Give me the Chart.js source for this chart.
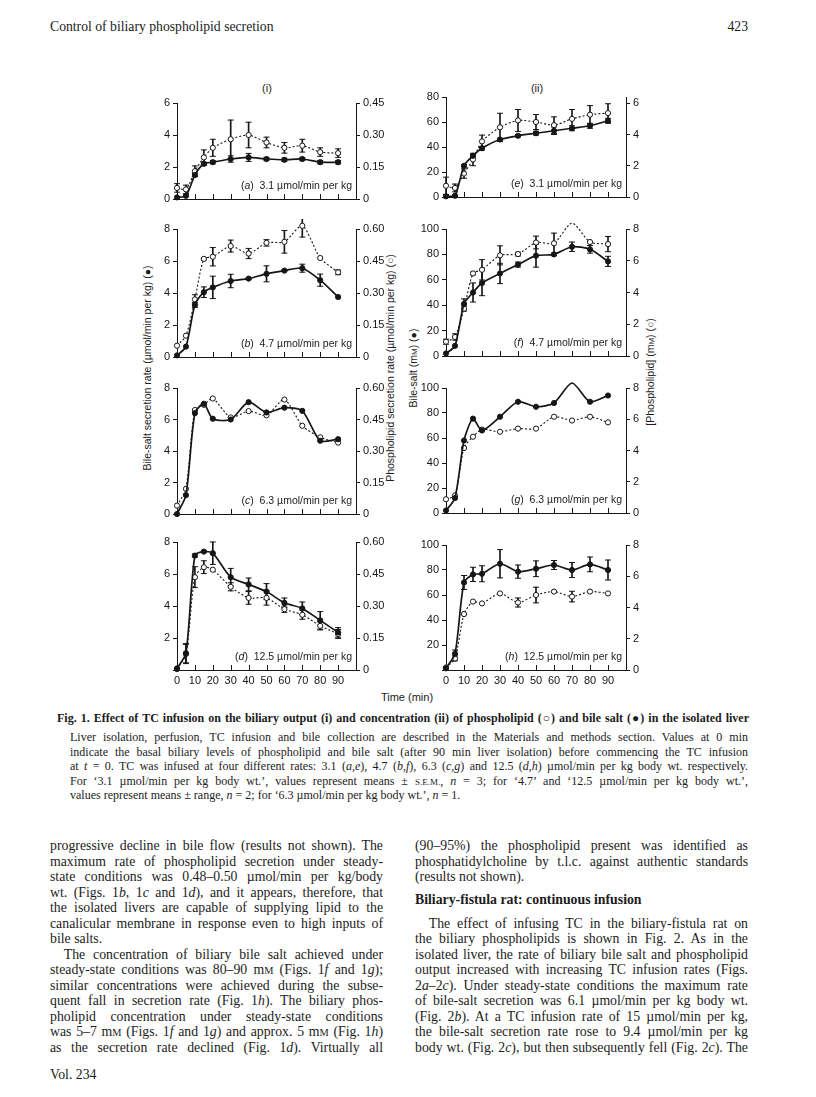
<!DOCTYPE html>
<html>
<head>
<meta charset="utf-8">
<title>Fig. 1 - TC infusion</title>
<script src="https://cdn.jsdelivr.net/npm/chart.js@4.4.1/dist/chart.umd.min.js"></script>
<style>
  html, body { margin: 0; padding: 0; background: #fff; }
  body { position: relative; width: 816px; height: 1097px; overflow: hidden; color: #1c1c1c;
         font-family: "Liberation Serif", "Times New Roman", serif; }
  .abs { position: absolute; white-space: nowrap; }
  .sans { font-family: "Liberation Sans", Arial, sans-serif; }
  .vt { position: absolute; white-space: nowrap; transform: translate(-50%, -50%) rotate(-90deg);
        font: 10.5px "Liberation Sans", Arial, sans-serif; }
  .cap { position: absolute; white-space: nowrap; transform: translateX(-100%);
         font: 10.5px "Liberation Sans", Arial, sans-serif; }
  .ln { position: absolute; white-space: nowrap; text-align: justify; text-align-last: justify; }
  .ln.last { text-align-last: left; }
  .sc { font-size: 75%; }
</style>
</head>
<body>

<div class="abs" style="left:50px;top:19px;font-size:13.7px;">Control of biliary phospholipid secretion</div>
<div class="abs" style="left:700px;width:48px;top:19px;font-size:13.7px;text-align:right;">423</div>

<div class="abs sans" style="left:267px;top:82px;font-size:11px;transform:translateX(-50%);">(i)</div>
<div class="abs sans" style="left:537px;top:82px;font-size:11px;transform:translateX(-50%);">(ii)</div>

<div class="vt" style="left:147px;top:368px;">Bile-salt secretion rate (µmol/min per kg) (●)</div>
<div class="vt" style="left:390px;top:368px;">Phospholipid secretion rate (µmol/min per kg) (○)</div>
<div class="vt" style="left:413px;top:368px;">Bile-salt (m<span class="sc">M</span>) (●)</div>
<div class="vt" style="left:650px;top:372px;">[Phospholipid] (m<span class="sc">M</span>) (○)</div>

<div class="abs sans" style="left:407px;top:691px;font-size:11px;transform:translateX(-50%);">Time (min)</div>

<div id="text"></div>

<script>
// ---- sampling times (min) and tick labels ----
const times       = [0, 5, 10, 15, 20, 30, 40, 50, 60, 70, 80, 90];
const timeTicks   = [0, 10, 20, 30, 40, 50, 60, 70, 80, 90];
const bsOutTicksA = [0, 2, 4, 6];
const bsOutTicks  = [0, 2, 4, 6, 8];
const plOutTicksA = [0, 0.15, 0.30, 0.45];
const plOutTicks  = [0, 0.15, 0.30, 0.45, 0.60];
const bsConTicksE = [0, 20, 40, 60, 80];
const bsConTicks  = [0, 20, 40, 60, 80, 100];
const plConTicksE = [0, 2, 4, 6];
const plConTicks  = [0, 2, 4, 6, 8];

// ---- (i) biliary output: bile salt (µmol/min per kg) and phospholipid (µmol/min per kg) ----
const bsOutA    = [0.1, 0.2, 1.5, 2.2, 2.3, 2.5, 2.6, 2.5, 2.45, 2.5, 2.3, 2.3];
const bsOutAErr = [0, 0.05, 0.1, 0.1, 0.1, 0.2, 0.25, 0.1, 0.1, 0.1, 0.1, 0.1];
const plOutA    = [0.052, 0.045, 0.13, 0.195, 0.24, 0.28, 0.30, 0.265, 0.24, 0.25, 0.22, 0.215];
const plOutAErr = [0.02, 0.02, 0.025, 0.035, 0.04, 0.09, 0.06, 0.025, 0.025, 0.03, 0.02, 0.02];

const bsOutB    = [0.1, 0.65, 3.25, 4.05, 4.35, 4.75, 4.9, 5.2, 5.4, 5.55, 4.8, 3.75];
const bsOutBErr = [0, 0, 0.15, 0.33, 0.7, 0.42, 0.05, 0.5, 0.05, 0.25, 0.38, 0];
const plOutB    = [0.053, 0.10, 0.27, 0.46, 0.47, 0.52, 0.485, 0.535, 0.54, 0.615, 0.464, 0.397];
const plOutBErr = [0, 0, 0.022, 0.005, 0.043, 0.028, 0.024, 0.015, 0.053, 0.053, 0, 0.011];

const bsOutC    = [0, 1.2, 6.4, 7.0, 6.05, 6.0, 7.1, 6.45, 6.75, 6.55, 4.65, 4.75];
const plOutC    = [0.04, 0.12, 0.495, 0.52, 0.55, 0.46, 0.49, 0.47, 0.545, 0.42, 0.365, 0.34];

const bsOutD    = [0.1, 1.05, 7.15, 7.4, 7.3, 5.8, 5.35, 4.9, 4.2, 3.85, 3.1, 2.35];
const bsOutDErr = [0, 0.6, 0.1, 0.05, 0.7, 0.55, 0.4, 0.5, 0.3, 0.4, 0.55, 0.3];
const plOutD    = [0.004, 0.075, 0.435, 0.482, 0.47, 0.39, 0.338, 0.338, 0.285, 0.259, 0.207, 0.169];
const plOutDErr = [0, 0.045, 0.049, 0.03, 0, 0.019, 0.03, 0.034, 0.015, 0.021, 0.019, 0.021];

// ---- (ii) concentration: bile salt (mM) and phospholipid (mM) ----
const bsConE    = [0.5, 1, 25, 33, 39, 46, 49, 51, 53, 55, 57, 61];
const bsConEErr = [1, 0.5, 1, 1, 1.5, 1, 1, 1.5, 3, 2, 2, 2];
const plConE    = [0.72, 0.58, 1.5, 2.4, 3.56, 4.46, 4.9, 4.8, 4.6, 5.0, 5.27, 5.37];
const plConEErr = [0.55, 0.25, 0.3, 0.4, 0.4, 0.9, 0.7, 0.48, 0.53, 0.6, 0.58, 0.6];

const bsConF    = [2, 8, 41, 50, 57.5, 65, 72, 79, 80, 86, 84, 74.5];
const bsConFErr = [0, 0, 4, 7.5, 10, 8, 2, 9, 1, 3.7, 3, 4];
const plConF    = [0.9, 1.2, 2.98, 5.2, 5.43, 6.34, 6.42, 7.15, 7.1, 8.37, 7.18, 7.05];
const plConFErr = [0.16, 0.2, 0.16, 0.08, 0.64, 0.6, 0.12, 0.4, 0.64, 0, 0, 0.48];

const bsConG    = [2, 12, 58, 75.5, 66, 77, 89, 85, 88, 104, 89, 94];
const plConG    = [0.88, 1.12, 4.16, 4.88, 5.34, 5.2, 5.4, 5.4, 6.16, 5.92, 6.16, 5.8];

const bsConH    = [1.3, 13, 70, 76.5, 77, 85, 78.7, 81, 84, 80, 84.5, 80];
const bsConHErr = [0, 3, 5.6, 5.7, 6.4, 11.3, 5.3, 6.3, 3.6, 6, 5.9, 8];
const plConH    = [0.16, 0.74, 3.58, 4.38, 4.26, 4.9, 4.32, 4.8, 5.02, 4.7, 5.02, 4.9];
const plConHErr = [0, 0.16, 0, 0, 0, 0, 0.29, 0.5, 0.04, 0.34, 0, 0];

// ---- panel layout (page px) ----
const AXW = 45, PADT = 10, PADB = 10, XAXH = 22;
const INK = '#161616';
const FONT = { family: '"Liberation Sans", Arial, sans-serif', size: 11 };

const colI  = { l: 177, r: 356, y2Fmt: v => v === 0 ? '0' : v.toFixed(2) };
const colII = { l: 446, r: 626, y2Fmt: v => String(v) };

const panels = [
  { tag: 'a', rate: '3.1',  col: colI,  t: 103, b: 199, yMax: 6,   yTicks: bsOutTicksA, y2Max: 0.45, y2Ticks: plOutTicksA, bs: bsOutA, bsErr: bsOutAErr, pl: plOutA, plErr: plOutAErr },
  { tag: 'b', rate: '4.7',  col: colI,  t: 229, b: 357, yMax: 8,   yTicks: bsOutTicks,  y2Max: 0.6,  y2Ticks: plOutTicks,  bs: bsOutB, bsErr: bsOutBErr, pl: plOutB, plErr: plOutBErr },
  { tag: 'c', rate: '6.3',  col: colI,  t: 388, b: 514, yMax: 8,   yTicks: bsOutTicks,  y2Max: 0.6,  y2Ticks: plOutTicks,  bs: bsOutC, bsErr: null,      pl: plOutC, plErr: null },
  { tag: 'd', rate: '12.5', col: colI,  t: 542, b: 670, yMax: 8,   yTicks: bsOutTicks,  y2Max: 0.6,  y2Ticks: plOutTicks,  bs: bsOutD, bsErr: bsOutDErr, pl: plOutD, plErr: plOutDErr, bottom: true },
  { tag: 'e', rate: '3.1',  col: colII, t: 97,  b: 197, yMax: 80,  yTicks: bsConTicksE, y2Max: 6.4,  y2Ticks: plConTicksE, bs: bsConE, bsErr: bsConEErr, pl: plConE, plErr: plConEErr },
  { tag: 'f', rate: '4.7',  col: colII, t: 229, b: 356, yMax: 100, yTicks: bsConTicks,  y2Max: 8,    y2Ticks: plConTicks,  bs: bsConF, bsErr: bsConFErr, pl: plConF, plErr: plConFErr },
  { tag: 'g', rate: '6.3',  col: colII, t: 388, b: 513, yMax: 100, yTicks: bsConTicks,  y2Max: 8,    y2Ticks: plConTicks,  bs: bsConG, bsErr: null,      pl: plConG, plErr: null },
  { tag: 'h', rate: '12.5', col: colII, t: 545, b: 670, yMax: 100, yTicks: bsConTicks,  y2Max: 8,    y2Ticks: plConTicks,  bs: bsConH, bsErr: bsConHErr, pl: plConH, plErr: plConHErr, bottom: true }
];

// ---- helpers ----
const toPts = vals => times.map((t, i) => ({ x: t, y: vals[i] }));
const toBars = (vals, errs) => times
  .map((t, i) => ({ x: t, y: [vals[i] - errs[i], vals[i] + errs[i]] }))
  .filter((d, i) => errs[i] > 0);
const toCaps = (vals, errs) => times.flatMap((t, i) =>
  errs[i] > 0 ? [{ x: t, y: vals[i] - errs[i] }, { x: t, y: vals[i] + errs[i] }] : []);
const fixTicks = list => s => { s.ticks = list.map(v => ({ value: v })); };

// x ticks drawn inwards, as in the original figure
const innerTicks = {
  id: 'innerTicks',
  beforeDatasetsDraw(chart) {
    const xs = chart.scales.x, ctx = chart.ctx, bottom = chart.chartArea.bottom;
    ctx.save();
    ctx.strokeStyle = INK;
    ctx.lineWidth = 1;
    xs.ticks.forEach(tk => {
      if (tk.value <= 0) return;
      const px = Math.round(xs.getPixelForValue(tk.value)) + 0.5;
      ctx.beginPath();
      ctx.moveTo(px, bottom);
      ctx.lineTo(px, bottom - 5);
      ctx.stroke();
    });
    ctx.restore();
  }
};

const errSets = (vals, errs, axis) => errs ? [
  { type: 'bar', data: toBars(vals, errs), yAxisID: axis, backgroundColor: INK, barThickness: 1,
    grouped: false, borderWidth: 0, order: 5, clip: false },
  { type: 'line', data: toCaps(vals, errs), yAxisID: axis, showLine: false, pointStyle: 'line',
    pointRadius: 3, pointBorderWidth: 1, borderColor: INK, pointBorderColor: INK, order: 4, clip: false }
] : [];

const yAxis = (pos, max, ticks, fmt) => ({
  type: 'linear', position: pos, min: 0, max: max,
  afterFit: s => { s.width = AXW; },
  afterBuildTicks: fixTicks(ticks),
  grid: { drawOnChartArea: false, tickLength: 4, color: INK, lineWidth: 1 },
  border: { color: INK, width: 1 },
  ticks: { padding: 3, color: INK, font: FONT, callback: fmt }
});

function drawPanel(p) {
  const W = (p.col.r - p.col.l) + 2 * AXW;
  const H = (p.b - p.t) + PADT + (p.bottom ? XAXH : PADB);
  const wrap = document.createElement('div');
  wrap.style.cssText = `position:absolute;left:${p.col.l - AXW}px;top:${p.t - PADT}px;width:${W}px;height:${H}px;`;
  const cv = document.createElement('canvas');
  cv.width = W; cv.height = H;
  cv.style.width = W + 'px'; cv.style.height = H + 'px';
  wrap.appendChild(cv);
  document.body.appendChild(wrap);

  const cap = document.createElement('div');
  cap.className = 'cap';
  cap.style.left = (p.col.r - 4) + 'px';
  cap.style.top = (p.b - 20) + 'px';
  cap.innerHTML = `(<i>${p.tag}</i>)&nbsp; ${p.rate} µmol/min per kg`;
  document.body.appendChild(cap);

  new Chart(cv, {
    type: 'line',
    data: {
      datasets: [
        ...errSets(p.pl, p.plErr, 'y2'),
        ...errSets(p.bs, p.bsErr, 'y'),
        { label: 'Phospholipid', data: toPts(p.pl), yAxisID: 'y2', borderColor: INK, borderWidth: 1.1,
          borderDash: [2, 2], tension: 0.25, pointRadius: 2.6, pointBackgroundColor: '#fff',
          pointBorderColor: INK, pointBorderWidth: 1, order: 2, clip: false },
        { label: 'Bile salt', data: toPts(p.bs), yAxisID: 'y', borderColor: INK, borderWidth: 1.7,
          tension: 0.25, pointRadius: 2.6, pointBackgroundColor: INK, pointBorderColor: INK,
          pointBorderWidth: 1, order: 1, clip: false }
      ]
    },
    options: {
      responsive: false,
      animation: false,
      events: [],
      layout: { padding: { top: PADT, bottom: p.bottom ? 0 : PADB - 1, left: 0, right: 0 } },
      plugins: { legend: { display: false }, tooltip: { enabled: false } },
      scales: {
        x: {
          type: 'linear', min: 0, max: 100, offset: false,
          afterBuildTicks: fixTicks(timeTicks),
          afterFit: s => { s.height = p.bottom ? XAXH : 1; },
          grid: { display: false, drawTicks: false },
          border: { display: true, color: INK, width: 1 },
          ticks: { display: !!p.bottom, padding: 4, color: INK, font: FONT,
                   maxRotation: 0, autoSkip: false }
        },
        y: yAxis('left', p.yMax, p.yTicks, v => (p.bottom && v === 0) ? '' : String(v)),
        y2: yAxis('right', p.y2Max, p.y2Ticks, p.col.y2Fmt)
      }
    },
    plugins: [innerTicks]
  });
}

panels.forEach(drawPanel);

// ---- text of the page ----
const legendLines = [
  'Liver isolation, perfusion, TC infusion and bile collection are described in the Materials and methods section. Values at 0 min',
  'indicate the basal biliary levels of phospholipid and bile salt (after 90 min liver isolation) before commencing the TC infusion',
  'at <i>t</i> = 0. TC was infused at four different rates: 3.1 (<i>a,e</i>), 4.7 (<i>b,f</i>), 6.3 (<i>c,g</i>) and 12.5 (<i>d,h</i>) µmol/min per kg body wt. respectively.',
  'For ‘3.1 µmol/min per kg body wt.’, values represent means ± <span class="sc">S.E.M.</span>, <i>n</i> = 3; for ‘4.7’ and ‘12.5 µmol/min per kg body wt.’,',
  'values represent means ± range, <i>n</i> = 2; for ‘6.3 µmol/min per kg body wt.’, <i>n</i> = 1.'
];

const leftBody = [
  'progressive decline in bile flow (results not shown). The',
  'maximum rate of phospholipid secretion under steady-',
  'state conditions was 0.48–0.50 µmol/min per kg/body',
  'wt. (Figs. 1<i>b</i>, 1<i>c</i> and 1<i>d</i>), and it appears, therefore, that',
  'the isolated livers are capable of supplying lipid to the',
  'canalicular membrane in response even to high inputs of',
  'bile salts.',
  '&emsp;The concentration of biliary bile salt achieved under',
  'steady-state conditions was 80–90 m<span class="sc">M</span> (Figs. 1<i>f</i> and 1<i>g</i>);',
  'similar concentrations were achieved during the subse-',
  'quent fall in secretion rate (Fig. 1<i>h</i>). The biliary phos-',
  'pholipid concentration under steady-state conditions',
  'was 5–7 m<span class="sc">M</span> (Figs. 1<i>f</i> and 1<i>g</i>) and approx. 5 m<span class="sc">M</span> (Fig. 1<i>h</i>)',
  'as the secretion rate declined (Fig. 1<i>d</i>). Virtually all'
];

const rightBody = [
  [0, '(90–95%) the phospholipid present was identified as'],
  [1, 'phosphatidylcholine by t.l.c. against authentic standards'],
  [2, '(results not shown).', true],
  [3.5, '<b>Biliary-fistula rat: continuous infusion</b>', true],
  [5, '&emsp;The effect of infusing TC in the biliary-fistula rat on'],
  [6, 'the biliary phospholipids is shown in Fig. 2. As in the'],
  [7, 'isolated liver, the rate of biliary bile salt and phospholipid'],
  [8, 'output increased with increasing TC infusion rates (Figs.'],
  [9, '2<i>a</i>–2<i>c</i>). Under steady-state conditions the maximum rate'],
  [10, 'of bile-salt secretion was 6.1 µmol/min per kg body wt.'],
  [11, '(Fig. 2<i>b</i>). At a TC infusion rate of 15 µmol/min per kg,'],
  [12, 'the bile-salt secretion rate rose to 9.4 µmol/min per kg'],
  [13, 'body wt. (Fig. 2<i>c</i>), but then subsequently fell (Fig. 2<i>c</i>). The']
];

const textBox = document.getElementById('text');
function addLine(html, left, width, top, size, last) {
  const d = document.createElement('div');
  d.className = 'ln' + (last ? ' last' : '');
  d.style.cssText = `left:${left}px;width:${width}px;top:${top}px;font-size:${size}px;line-height:${size + 2}px;`;
  d.innerHTML = html;
  textBox.appendChild(d);
}

addLine('<b>Fig. 1.</b> <b>Effect of TC infusion on the biliary output (i) and concentration (ii) of phospholipid (○) and bile salt (●) in the isolated liver</b>',
        57, 692, 711, 12, false);
legendLines.forEach((h, i) => addLine(h, 70, 678, 730 + i * 14.5, 12, i === legendLines.length - 1));

const BODY_TOP = 838, BODY_STEP = 15.5;
leftBody.forEach((h, i) => addLine(h, 50, 333, BODY_TOP + i * BODY_STEP, 13.8, i === 6));
rightBody.forEach(([slot, h, last]) => addLine(h, 415, 333, BODY_TOP + slot * BODY_STEP, 13.8, !!last));

addLine('Vol. 234', 50, 100, 1067, 13.8, true);
</script>
</body>
</html>
